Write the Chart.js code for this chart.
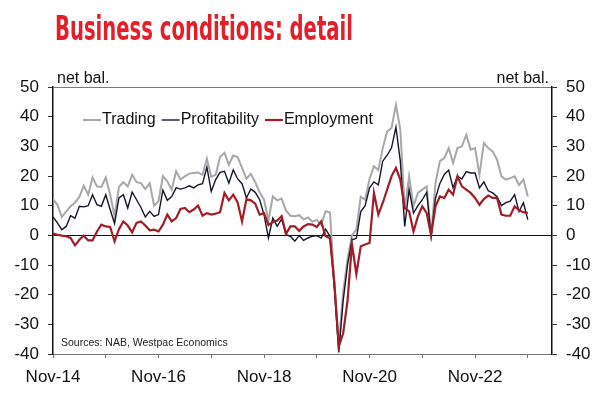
<!DOCTYPE html>
<html><head><meta charset="utf-8">
<script src="https://cdn.jsdelivr.net/npm/chart.js@4/dist/chart.umd.min.js"></script>
<style>
html,body{margin:0;padding:0;background:#fff;}
#wrap{position:relative;width:607px;height:395px;overflow:hidden;}
#title{position:absolute;left:55px;top:11px;margin:0;font-family:"Liberation Sans Narrow","DejaVu Sans Condensed",sans-serif;font-weight:bold;font-size:34px;color:#e3202a;white-space:nowrap;transform-origin:0 0;line-height:1;z-index:2;}
canvas{position:absolute;left:0;top:0;}
</style></head>
<body><div id="wrap"><h1 id="title">Business conditions: detail</h1><canvas id="c" width="607" height="395"></canvas></div>
<script>
// Monthly data, Nov-14 onward (net balance)
const seriesNames = ['Trading', 'Profitability', 'Employment'];
const xTickLabels = ['Nov-14', 'Nov-16', 'Nov-18', 'Nov-20', 'Nov-22'];
const yTicks = [-40, -30, -20, -10, 0, 10, 20, 30, 40, 50];
const trading = [12.2,10.3,6.2,8,9.8,11,13,16.7,13.7,19.5,16.5,16.3,19.5,13.7,6.5,16.3,17.9,16.5,20.4,17.9,17.6,15.6,17.6,10,11.5,20,18.2,15.4,21.6,18.8,19.9,20.8,21,21.2,20.4,25.8,19.7,20.4,26.4,27.8,23.8,26.9,26.4,22.7,19.1,20.7,17.9,14.5,12,5,13.1,11.8,12.4,8.3,6.6,6.4,6.8,5.4,6,4.6,5.2,3.5,8.1,7.7,-16,-37,-19,-8,0,2,13,12,19,23.3,22,29.4,35,36.2,44,35.6,8.7,19.9,9.8,14.3,15.4,16.5,0.2,17.6,25,26,29.4,24.4,29.4,30,33.9,28.9,29.4,20.4,31.1,29.4,28.3,25.5,19.9,18.8,19.3,19.9,17,18.8,13.1];
const profitability = [6.2,4.2,1.9,3,6.6,5.8,9.8,9.6,10,13.7,10.3,9.8,13.7,8.7,4,12.6,13.7,9.2,14.6,12,9.4,6.2,8.1,6.4,7,15.2,11.8,13.1,16,15.6,16,16.7,16,17,17.4,23,14.8,18.8,21.2,21.6,17.6,22.1,19,17.4,12.6,15.6,14.5,12,7,-0.9,5.8,3,5.5,0.2,-0.3,-2,-0.1,-1.7,-0.9,-0.3,-0.1,-0.9,2.1,-0.3,-18,-39.5,-22,-10,-1.5,-1,8,10,16,18,17,25,27,29.5,36.5,25,3,15.5,7.5,10,12,14.5,-0.3,12.5,17.5,20.5,22,16,20,19,21.5,21,21,16,18,15,14.3,13,10,11,11.5,13.7,8,11,5.3];
const employment = [0.6,0.2,-0.1,-0.3,-0.9,-3.4,-1.5,-0.1,-1.7,-1.7,1.3,3.6,3,2.8,-2,2.1,4.7,3.3,1,4.2,4.7,3.3,1.7,1.9,1.3,3.6,7,4.7,5.8,8.9,9.2,7.8,8.7,10,6.6,7.5,7,7.3,7.8,14.3,11.8,13.7,11.1,4.7,12.2,11.8,10.7,7,7.5,3.5,4.5,5,6.5,0.5,3,3,1.5,3,3.8,3.6,2.8,4.7,-0.3,-1,-16,-37.5,-33,-22,-3,-13,-3.7,-3.1,-2.6,14.3,7,10.9,15.4,19.9,22.7,18.8,9.2,8.1,1.3,6.4,9.8,7.5,0,9.8,13.1,12.6,15.4,13.7,19.9,16.5,15.4,14.3,12.6,10.3,12.2,13.4,12.6,12.6,7,6.6,6.6,9.8,8.4,7.8,7.5];

const colors = {Trading:'#a8a8a8', Profitability:'#15152a', Employment:'#a21d27'};
const widths = {Trading:2, Profitability:1.4, Employment:2.2};
const FONT = '"Liberation Sans", Arial, sans-serif';
const TXT = '#111';

// fit title width
(function(){
  const t = document.getElementById('title');
  const w = t.getBoundingClientRect().width;
  t.style.transform = 'scaleX(' + (298 / w) + ')';
})();

const toPts = arr => arr.map((v, i) => ({x: i, y: v}));

const textPlugin = {
  id: 'texts',
  afterDatasetsDraw(chart) {
    const {ctx, chartArea: a} = chart;
    ctx.save();
    // legend
    ctx.font = '16px ' + FONT;
    ctx.textBaseline = 'middle';
    ctx.textAlign = 'left';
    let x = a.left + 30;
    const y = a.top + 33;
    seriesNames.forEach(n => {
      ctx.strokeStyle = colors[n];
      ctx.lineWidth = widths[n];
      ctx.beginPath(); ctx.moveTo(x, y); ctx.lineTo(x + 18, y); ctx.stroke();
      x += 19;
      ctx.fillStyle = TXT;
      ctx.fillText(n, x, y);
      x += ctx.measureText(n).width + 6;
    });
    // source
    ctx.font = '10.5px ' + FONT;
    ctx.fillStyle = '#222';
    ctx.fillText('Sources: NAB, Westpac Economics', a.left + 8, a.bottom - 11);
    // axis titles
    ctx.font = '16px ' + FONT;
    ctx.fillStyle = TXT;
    ctx.textBaseline = 'alphabetic';
    ctx.textAlign = 'left';
    ctx.fillText('net bal.', a.left + 4, a.top - 4);
    ctx.textAlign = 'right';
    ctx.fillText('net bal.', a.right - 3, a.top - 4);
    ctx.restore();
  }
};

const tickFont = {family: FONT, size: 17};
const yCommon = {
  min: -40, max: 50,
  afterBuildTicks(s) { s.ticks = yTicks.map(v => ({value: v})); },
  ticks: {padding: 9, color: TXT, font: tickFont},
};

new Chart(document.getElementById('c'), {
  type: 'line',
  data: {
    datasets: [
      {label: 'Employment', data: toPts(employment), borderColor: colors.Employment, borderWidth: widths.Employment},
      {label: 'Profitability', data: toPts(profitability), borderColor: colors.Profitability, borderWidth: widths.Profitability},
      {label: 'Trading', data: toPts(trading), borderColor: colors.Trading, borderWidth: widths.Trading}
    ]
  },
  options: {
    responsive: false,
    animation: false,
    devicePixelRatio: 1,
    layout: {padding: {top: 87, left: 0, right: 0, bottom: 0}},
    elements: {point: {radius: 0}, line: {tension: 0, fill: false}},
    plugins: {legend: {display: false}, tooltip: {enabled: false}},
    scales: {
      x: {
        type: 'linear', min: 0, max: 113.5,
        afterFit(s) { s.height = 41; },
        ticks: {stepSize: 12, includeBounds: false, autoSkip: false, maxRotation: 0, padding: 9, color: TXT, font: tickFont,
          callback: v => (v % 24 === 0 ? (xTickLabels[v / 24] || '') : '')},
        grid: {drawOnChartArea: false, drawTicks: true, tickLength: 4, color: '#777'},
        border: {display: true, color: '#777', width: 1}
      },
      y: Object.assign({}, yCommon, {
        position: 'left',
        afterFit(s) { s.width = 53; },
        grid: {drawOnChartArea: true, drawTicks: true, tickLength: 5, tickColor: '#333',
          color: c => c.tick && c.tick.value === 0 ? '#111' : (c.tick && c.tick.value === 50 ? '#7a7a7a' : 'rgba(0,0,0,0)'),
          lineWidth: 1},
        border: {display: true, color: '#111', width: 1.5}
      }),
      y2: Object.assign({}, yCommon, {
        position: 'right',
        afterFit(s) { s.width = 55; },
        grid: {drawOnChartArea: false, drawTicks: true, tickLength: 5, color: '#333'},
        border: {display: true, color: '#111', width: 1.5}
      })
    }
  },
  plugins: [textPlugin]
});
</script>
</body></html>
